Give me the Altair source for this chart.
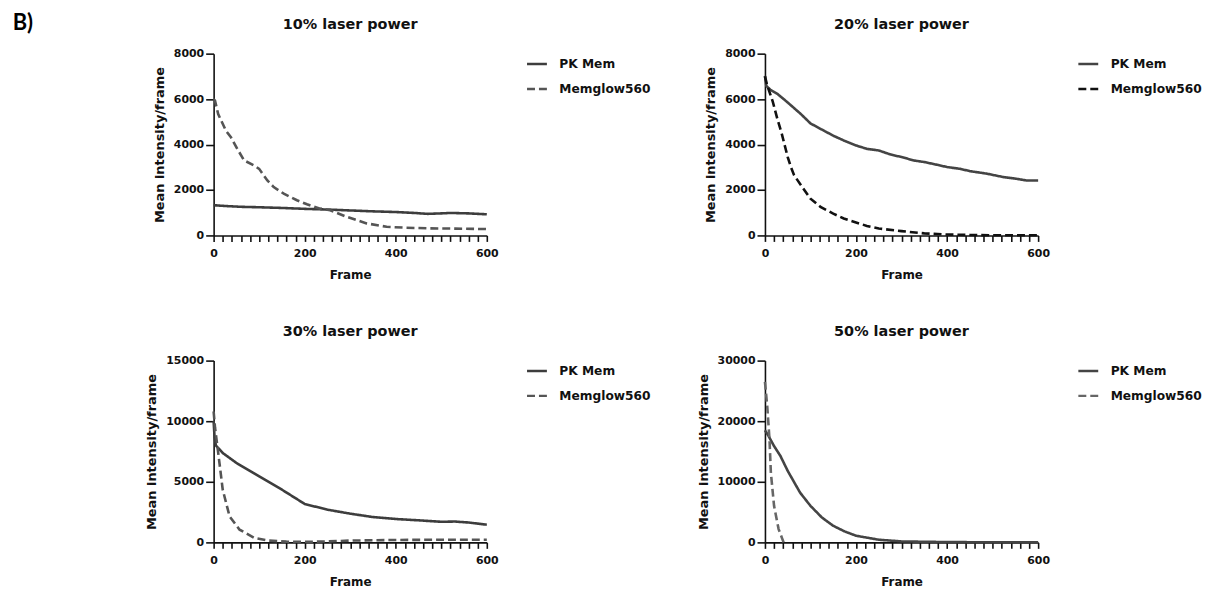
import altair as alt
import pandas as pd

panel_titles = ["10% laser power", "20% laser power", "30% laser power", "50% laser power"]
series_names = ["PK Mem", "Memglow560"]

# 10% laser power
p10_pk_frame = [0, 30, 60, 100, 150, 200, 250, 300, 350, 400, 440, 470, 500, 520, 560, 600]
p10_pk_value = [1330, 1290, 1260, 1240, 1210, 1170, 1140, 1100, 1060, 1030, 990, 950, 970, 990, 970, 930]
p10_mg_frame = [0, 3, 10, 27, 38, 52, 67, 89, 100, 118, 132, 154, 183, 205, 234, 256, 292, 336, 380, 423, 474, 530, 600]
p10_mg_value = [6000, 5930, 5340, 4610, 4320, 3810, 3300, 3080, 2930, 2420, 2130, 1840, 1550, 1370, 1180, 1110, 820, 530, 380, 340, 310, 300, 280]

# 20% laser power
p20_pk_frame = [0, 3, 13, 28, 50, 79, 100, 122, 150, 173, 200, 224, 250, 276, 300, 327, 350, 378, 400, 429, 450, 487, 523, 550, 574, 600]
p20_pk_value = [7020, 6580, 6390, 6220, 5850, 5340, 4930, 4690, 4390, 4180, 3960, 3810, 3740, 3560, 3450, 3300, 3230, 3110, 3010, 2930, 2830, 2720, 2570, 2500, 2420, 2420]
p20_mg_frame = [0, 5, 17, 27, 37, 50, 57, 64, 82, 100, 122, 150, 173, 200, 224, 250, 300, 350, 400, 450, 500, 600]
p20_mg_value = [7000, 6600, 5900, 5150, 4470, 3450, 3010, 2650, 2130, 1620, 1255, 960, 745, 570, 420, 305, 190, 90, 40, 20, 10, 5]

# 30% laser power
p30_pk_frame = [0, 2, 5, 10, 20, 50, 100, 150, 200, 250, 300, 350, 400, 450, 500, 530, 560, 600]
p30_pk_value = [10000, 8700, 8000, 7790, 7380, 6560, 5450, 4350, 3170, 2700, 2370, 2090, 1930, 1820, 1700, 1720, 1640, 1460]
p30_mg_frame = [0, 3, 11, 20, 35, 57, 90, 120, 160, 200, 250, 300, 400, 500, 600]
p30_mg_value = [10800, 9500, 7100, 4350, 2150, 1050, 360, 150, 60, 40, 80, 150, 200, 220, 220]

# 50% laser power
p50_pk_frame = [0, 8, 20, 34, 50, 77, 100, 125, 150, 175, 200, 250, 300, 400, 500, 600]
p50_pk_value = [18500, 17550, 15900, 14260, 11800, 8230, 6030, 4110, 2740, 1810, 1100, 440, 160, 50, 20, 10]
p50_mg_frame = [0, 5, 10, 13, 20, 30, 41]
p50_mg_value = [26500, 22500, 17000, 11500, 6030, 2190, 0]

FONT = "DejaVu Sans"


def panel(title, pk_f, pk_v, mg_f, mg_v, ymax, ystep, colors):
    df = pd.DataFrame({
        "Frame": pk_f + mg_f,
        "Value": pk_v + mg_v,
        "Series": ["PK Mem"] * len(pk_f) + ["Memglow560"] * len(mg_f),
    })
    legend = alt.Legend(
        title=None, orient="none", legendX=314, legendY=-1,
        symbolType="stroke", symbolSize=400, symbolStrokeWidth=2.5,
        labelFont=FONT, labelFontWeight="bold", labelFontSize=12.3,
        labelColor="#111111", labelOffset=11, rowPadding=7,
    )
    x_axis = alt.Axis(
        values=list(range(0, 601, 20)),
        labelExpr="datum.value % 200 === 0 ? datum.label : ''",
        labelOverlap=False, labelFlush=False, format="d",
        tickSize=6,
        labelPadding=6, titlePadding=11, titleFontSize=12,
    )
    y_axis = alt.Axis(
        values=list(range(0, ymax + 1, ystep)), format="d", tickSize=8,
        labelPadding=2, titlePadding=7, titleFontSize=13,
    )
    return alt.Chart(
        df,
        title=alt.TitleParams(title, font=FONT, fontSize=14.5, fontWeight="bold",
                              color="#111111", anchor="middle", frame="group", offset=15),
    ).mark_line(strokeWidth=2.6).encode(
        x=alt.X("Frame:Q", scale=alt.Scale(domain=[0, 600], nice=False), axis=x_axis, title="Frame"),
        y=alt.Y("Value:Q", scale=alt.Scale(domain=[0, ymax], nice=False), axis=y_axis,
                title="Mean intensity/frame"),
        color=alt.Color("Series:N", scale=alt.Scale(domain=series_names, range=colors), legend=legend),
        strokeDash=alt.StrokeDash("Series:N", scale=alt.Scale(domain=series_names, range=[[1, 0], [8, 4]]),
                                  legend=legend),
    ).properties(width=275, height=183)


c1 = panel(panel_titles[0], p10_pk_frame, p10_pk_value, p10_mg_frame, p10_mg_value, 8000, 2000, ["#3d3d3d", "#555555"])
c2 = panel(panel_titles[1], p20_pk_frame, p20_pk_value, p20_mg_frame, p20_mg_value, 8000, 2000, ["#444444", "#111111"])
c3 = panel(panel_titles[2], p30_pk_frame, p30_pk_value, p30_mg_frame, p30_mg_value, 15000, 5000, ["#3d3d3d", "#555555"])
c4 = panel(panel_titles[3], p50_pk_frame, p50_pk_value, p50_mg_frame, p50_mg_value, 30000, 10000, ["#444444", "#666666"])

chart = alt.concat(
    c1, c2, c3, c4, columns=2,
    spacing={"row": 126, "column": 280},
    bounds="flush",
    title=alt.TitleParams("B)", anchor="start", frame="bounds", font="Lato", fontSize=22,
                          fontWeight="bold", color="#000000", dx=-134, offset=-18),
).resolve_scale(
    color="independent", strokeDash="independent", y="independent", x="independent"
).resolve_legend(
    color="independent", strokeDash="independent"
).properties(
    padding={"left": 4, "top": 2, "right": 5, "bottom": 5}
).configure_view(
    stroke=None
).configure_axis(
    grid=False, domainColor="#111111", domainWidth=1.6, tickColor="#111111", tickWidth=1.6,
    labelFont=FONT, labelFontWeight="bold", labelFontSize=11, labelColor="#111111",
    titleFont=FONT, titleFontWeight="bold", titleColor="#111111",
)

chart.save("out.html", embed_options={"renderer": "svg", "actions": False})
